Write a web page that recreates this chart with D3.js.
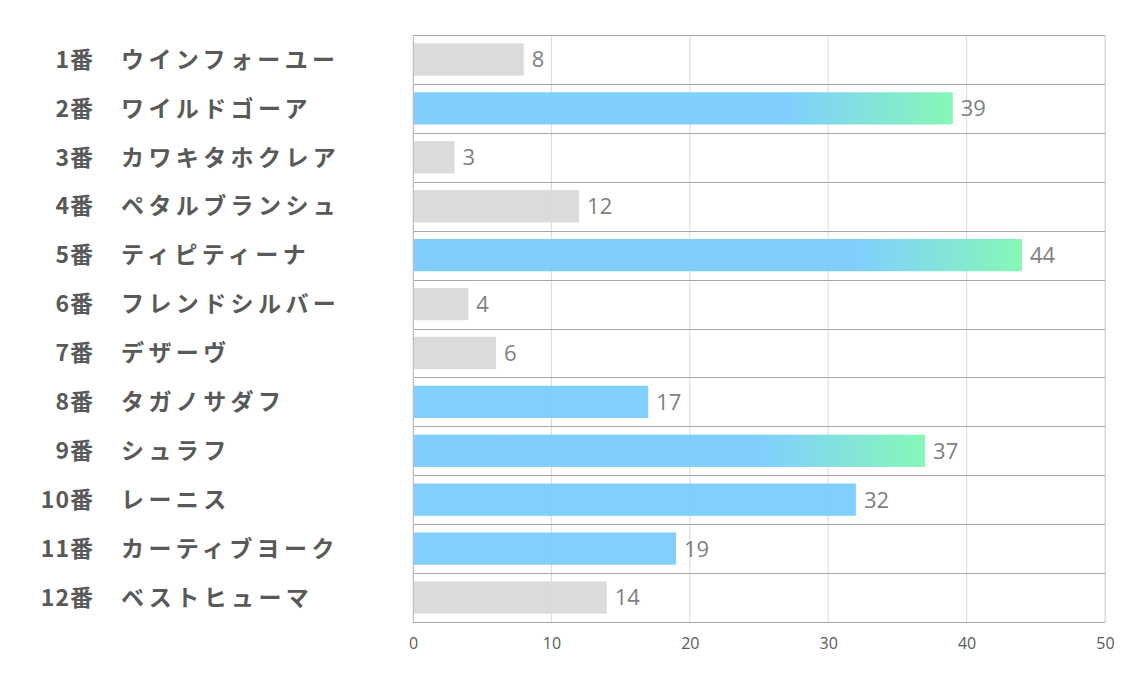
<!DOCTYPE html>
<html><head><meta charset="utf-8">
<script src="https://cdn.jsdelivr.net/npm/d3@7"></script>
<style>body{margin:0;background:#fff}svg{display:block}</style>
</head><body>
<svg id="c" width="1134" height="680"></svg>
<script>
const numbers = ["1番","2番","3番","4番","5番","6番","7番","8番","9番","10番","11番","12番"];
const names = ["ウインフォーユー","ワイルドゴーア","カワキタホクレア","ペタルブランシュ","ティピティーナ","フレンドシルバー","デザーヴ","タガノサダフ","シュラフ","レーニス","カーティブヨーク","ベストヒューマ"];
const values = [8,39,3,12,44,4,6,17,37,32,19,14];
const kinds = ["gray","grad","gray","gray","grad","gray","gray","blue","grad","blue","blue","gray"];
const ticks = [0,10,20,30,40,50];

const svg = d3.select("#c");
const L = 413, R = 1105, T = 35, B = 622;
const x = d3.scaleLinear().domain([0,50]).range([L,R]);
const y = d3.scaleBand().domain(d3.range(values.length)).range([T,B]).paddingInner(0.34).paddingOuter(0.17);
const rowY = d3.scaleBand().domain(d3.range(values.length)).range([T,B]);

const defs = svg.append("defs");
const BLUE = "#7accfe", GREEN = "#80f7b3", GRAY = "#d9d9d9";

// vertical grid
svg.append("g").selectAll("line").data(ticks).join("line")
  .attr("x1", d=>x(d)).attr("x2", d=>x(d)).attr("y1", T).attr("y2", B)
  .attr("stroke", "#d9d9d9").attr("stroke-width", 1);

// gradients
values.forEach((v,i)=>{
  if (kinds[i]==="grad"){
    const g = defs.append("linearGradient").attr("id","g"+i)
      .attr("gradientUnits","userSpaceOnUse")
      .attr("x1", x(v)-165).attr("x2", x(v)).attr("y1",0).attr("y2",0);
    g.append("stop").attr("offset","0").attr("stop-color",BLUE);
    g.append("stop").attr("offset","1").attr("stop-color",GREEN);
  }
});
svg.append("g").selectAll("rect").data(values).join("rect")
  .attr("x", x(0)).attr("y", (d,i)=>y(i)).attr("width", d=>x(d)-x(0)).attr("height", y.bandwidth())
  .attr("fill", (d,i)=>kinds[i]==="gray"?GRAY:(kinds[i]==="blue"?BLUE:`url(#g${i})`))
  .attr("opacity", 0.95);

// horizontal lines at row boundaries
const hl = d3.range(values.length+1).map(i=> i<values.length ? rowY(i) : B);
svg.append("g").selectAll("line").data(hl).join("line")
  .attr("x1", L).attr("x2", R).attr("y1", d=>Math.round(d)+0.5).attr("y2", d=>Math.round(d)+0.5)
  .attr("stroke", "#a6a6a6").attr("stroke-width", 1);

svg.append("line").attr("x1",L+0.5).attr("x2",L+0.5).attr("y1",T).attr("y2",B).attr("stroke","#bfbfbf");
svg.append("line").attr("x1",R+0.5).attr("x2",R+0.5).attr("y1",T).attr("y2",B).attr("stroke","#d9d9d9");

// value labels
svg.append("g").selectAll("text").data(values).join("text")
  .attr("x", d=>x(d)+8).attr("y", (d,i)=>y(i)+y.bandwidth()/2).attr("dy","0.36em")
  .style("font-family","'Open Sans','Noto Sans',sans-serif").style("font-size","22px")
  .attr("fill","#7f7f7f").text(d=>d);

// x axis
const xa = svg.append("g").attr("transform",`translate(0,${B})`)
  .call(d3.axisBottom(x).tickValues(ticks).tickSize(0).tickPadding(16));
xa.select(".domain").remove();
xa.selectAll("text").style("font-family","'Open Sans','Noto Sans',sans-serif").style("font-size","16px").attr("fill","#595959");

// category labels
const lab = svg.append("g").style("font-family","'Noto Sans CJK JP',sans-serif").style("font-weight","bold")
  .attr("fill","#595959");
lab.selectAll("text.n").data(numbers).join("text").attr("class","n")
  .attr("x",94).attr("y",(d,i)=>rowY(i)+rowY.bandwidth()/2).attr("dy","0.36em")
  .style("font-size","23px").attr("letter-spacing","1px")
  .attr("text-anchor","end").text(d=>d);
lab.selectAll("text.m").data(names).join("text").attr("class","m")
  .attr("x",121).attr("y",(d,i)=>rowY(i)+rowY.bandwidth()/2).attr("dy","0.36em")
  .style("font-size","23px").attr("letter-spacing","4.4px").text(d=>d);
</script>
</body></html>
